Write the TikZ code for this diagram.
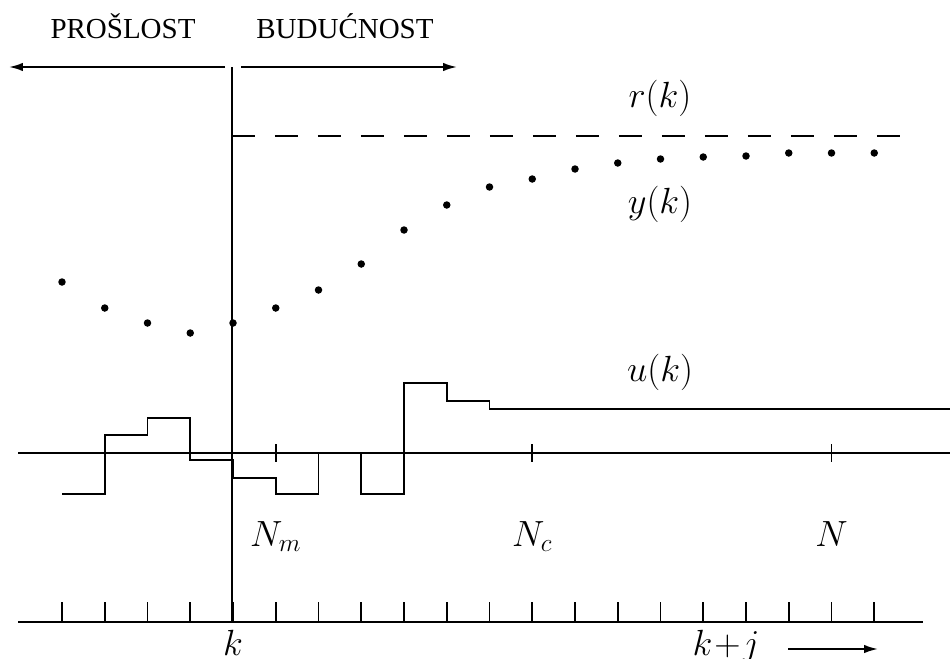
\documentclass[tikz,border=0pt]{standalone}
\usepackage{fontspec}
\usetikzlibrary{arrows.meta}
\newfontfamily\capsfont{Liberation Serif}

\begin{document}
\begin{tikzpicture}[x=0.02cm, y=-0.02cm, line width=1pt,
    every node/.style={font=\fontsize{20}{24}\selectfont, inner sep=0pt},
    eralabel/.style={font=\capsfont\fontsize{16.5}{20}\selectfont, anchor=base},
    mathlabel/.style={anchor=base},
    sample/.style={circle, fill=black, inner sep=0pt, minimum size=0.15cm},
    tip/.style={-{Latex[length=2.8mm,width=1.7mm]}}]
  \useasboundingbox (0,0) rectangle (950,659);

  % past / future
  \node[eralabel] (past) at (123,38) {PROŠLOST};
  \node[eralabel] (future) at (345,38) {BUDUĆNOST};
  \coordinate (ltail) at (225,67);
  \coordinate (lhead) at (9,67);
  \coordinate (rtail) at (241,67);
  \coordinate (rhead) at (457,67);
  \draw[tip] (ltail) -- (lhead);
  \draw[tip] (rtail) -- (rhead);

  % current instant k
  \coordinate (ktop) at (232,67);
  \coordinate (kbot) at (232,622);
  \draw (ktop) -- (kbot);

  % time axis
  \coordinate (tstart) at (18,622);
  \coordinate (tend) at (923,622);
  \draw (tstart) -- (tend);
  \foreach \i in {0,...,19}{
    \pgfmathsetmacro\xx{62+42.75*\i}
    \draw (\xx,602) -- (\xx,622);
  }
  \node[mathlabel] (lk) at (233,655) {$k$};
  \node[mathlabel] (lkj) at (726,655) {$k\!+\!j$};
  \coordinate (jtail) at (788,649);
  \coordinate (jhead) at (878,649);
  \draw[tip] (jtail) -- (jhead);

  % horizons
  \coordinate (ustart) at (18,453);
  \coordinate (uend) at (950,453);
  \draw (ustart) -- (uend);
  \foreach \i/\t in {5/N_m, 11/N_c, 18/N}{
    \pgfmathsetmacro\xx{62+42.75*\i}
    \draw (\xx,444) -- (\xx,462);
    \node[mathlabel] (h\i) at (\xx,546) {$\t$};
  }

  % reference
  \coordinate (rstart) at (232,136);
  \coordinate (rend) at (900,136);
  \draw[dash pattern=on 0.46cm off 0.4cm] (rstart) -- (rend);
  \node[mathlabel] (lr) at (660,107) {$r(k)$};

  % output samples
  \foreach \i/\v in {0/282,1/308,2/323,3/333,4/323,5/308,6/290,7/264,8/230,9/205,
      10/187,11/179,12/169,13/163,14/159,15/157,16/156,17/153,18/153,19/153}
    \node[sample] (y\i) at ({62+42.75*\i},\v) {};
  \node[mathlabel] (ly) at (660,213) {$y(k)$};

  % control signal
  \draw (62,494) \foreach \i/\v in {1/435,2/418,3/460,4/478,5/494,6/453,7/494,8/383,9/401,10/409}
    { -| ({62+42.75*\i},\v) } -- (950,409);
  \node[mathlabel] (lu) at (660,381) {$u(k)$};
\end{tikzpicture}
\end{document}
